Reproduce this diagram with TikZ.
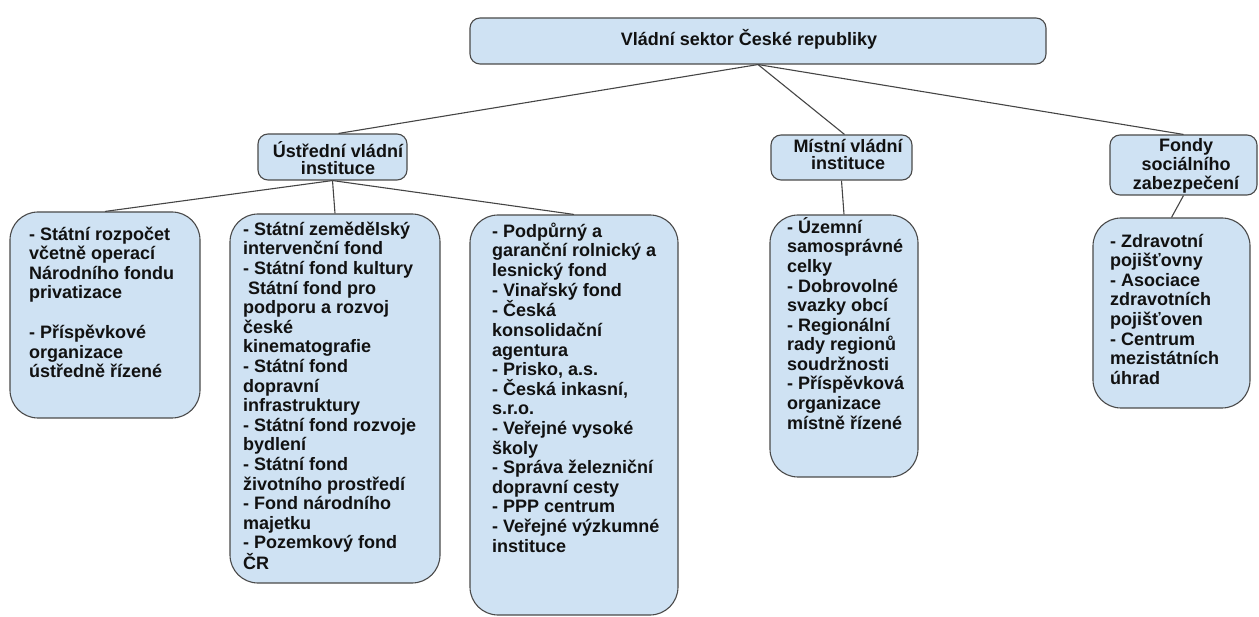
\documentclass[tikz,border=0pt]{standalone}
\usepackage{fontspec}
\setmainfont{Liberation Sans}
\definecolor{boxfill}{HTML}{CFE2F3}
\definecolor{boxline}{HTML}{4A4A4A}
\definecolor{connline}{HTML}{454545}
\definecolor{txt}{HTML}{111111}
\newcommand{\mystrut}{\rule{0pt}{17pt}}
\begin{document}
\begin{tikzpicture}[x=1pt,y=-1pt,
  hbox/.style={draw=boxline, fill=boxfill, rounded corners=10pt, line width=1.1pt, inner sep=0pt},
  bbox/.style={draw=boxline, fill=boxfill, rounded corners=28pt, line width=1.1pt, inner sep=0pt},
  htext/.style={font=\bfseries\fontsize{18}{17.5}\selectfont, align=center, inner sep=0pt, text=txt},
  btext/.style={font=\bfseries\fontsize{18}{19.6}\selectfont, align=left, anchor=north west, inner sep=0pt, text=txt},
  conn/.style={draw=connline, line width=1.1pt}]
\useasboundingbox (0,0) rectangle (1259,617);
% header boxes
\node[hbox, minimum width=576pt, minimum height=46pt] (top) at (758,41) {};
\node[hbox, minimum width=149pt, minimum height=46pt] (ust) at (332.5,157) {};
\node[hbox, minimum width=141pt, minimum height=45pt] (mist) at (841.5,157.5) {};
\node[hbox, minimum width=147pt, minimum height=60pt] (fondy) at (1183.5,165) {};
% body boxes
\node[bbox, minimum width=190pt, minimum height=206pt] (b1) at (105,315) {};
\node[bbox, minimum width=210pt, minimum height=369pt] (b2) at (335,398.5) {};
\node[bbox, minimum width=208pt, minimum height=400pt] (b3) at (574,415) {};
\node[bbox, minimum width=148pt, minimum height=262pt] (b4) at (844,346) {};
\node[bbox, minimum width=157pt, minimum height=190pt] (b5) at (1171.5,313) {};
% connectors
\draw[conn] (top.south) -- ([xshift=6pt]ust.north);
\draw[conn] (top.south) -- ([xshift=3pt]mist.north);
\draw[conn] (top.south) -- (fondy.north);
\draw[conn] (ust.south) -- (b1.north);
\draw[conn] (ust.south) -- (b2.north);
\draw[conn] (ust.south) -- (b3.north);
\draw[conn] (mist.south) -- (b4.north);
\draw[conn] (fondy.south) -- (b5.north);
% header texts
\node[htext] (toptext) at (749,39.5) {Vládní sektor České republiky};
\node[htext] (usttext) at (338,158) {Ústřední vládní\\instituce};
\node[htext] (misttext) at (848,154.5) {Místní vládní\\instituce};
\node[htext, font=\bfseries\fontsize{18}{19}\selectfont] (fondytext) at (1186,166) {Fondy\\sociálního\\zabezpečení};
% body texts
\node[btext] (t1) at (29,223) {\mystrut- Státní rozpočet\\včetně operací\\Národního fondu\\privatizace\\[20pt]- Příspěvkové\\organizace\\ústředně řízené};
\node[btext] (t2) at (243,218) {\mystrut- Státní zemědělský\\intervenční fond\\- Státní fond kultury\\\ Státní fond pro\\podporu a rozvoj\\české\\kinematografie\\- Státní fond\\dopravní\\infrastruktury\\- Státní fond rozvoje\\bydlení\\- Státní fond\\životního prostředí\\- Fond národního\\majetku\\- Pozemkový fond\\ČR};
\node[btext] (t3) at (492,220) {\mystrut- Podpůrný a\\garanční rolnický a\\lesnický fond\\- Vinařský fond\\- Česká\\konsolidační\\agentura\\- Prisko, a.s.\\- Česká inkasní,\\s.r.o.\\- Veřejné vysoké\\školy\\- Správa železniční\\dopravní cesty\\- PPP centrum\\- Veřejné výzkumné\\instituce};
\node[btext] (t4) at (787,216) {\mystrut- Územní\\samosprávné\\celky\\- Dobrovolné\\svazky obcí\\- Regionální\\rady regionů\\soudržnosti\\- Příspěvková\\organizace\\místně řízené};
\node[btext] (t5) at (1110,230) {\mystrut- Zdravotní\\pojišťovny\\- Asociace\\zdravotních\\pojišťoven\\- Centrum\\mezistátních\\úhrad};
\end{tikzpicture}
\end{document}
